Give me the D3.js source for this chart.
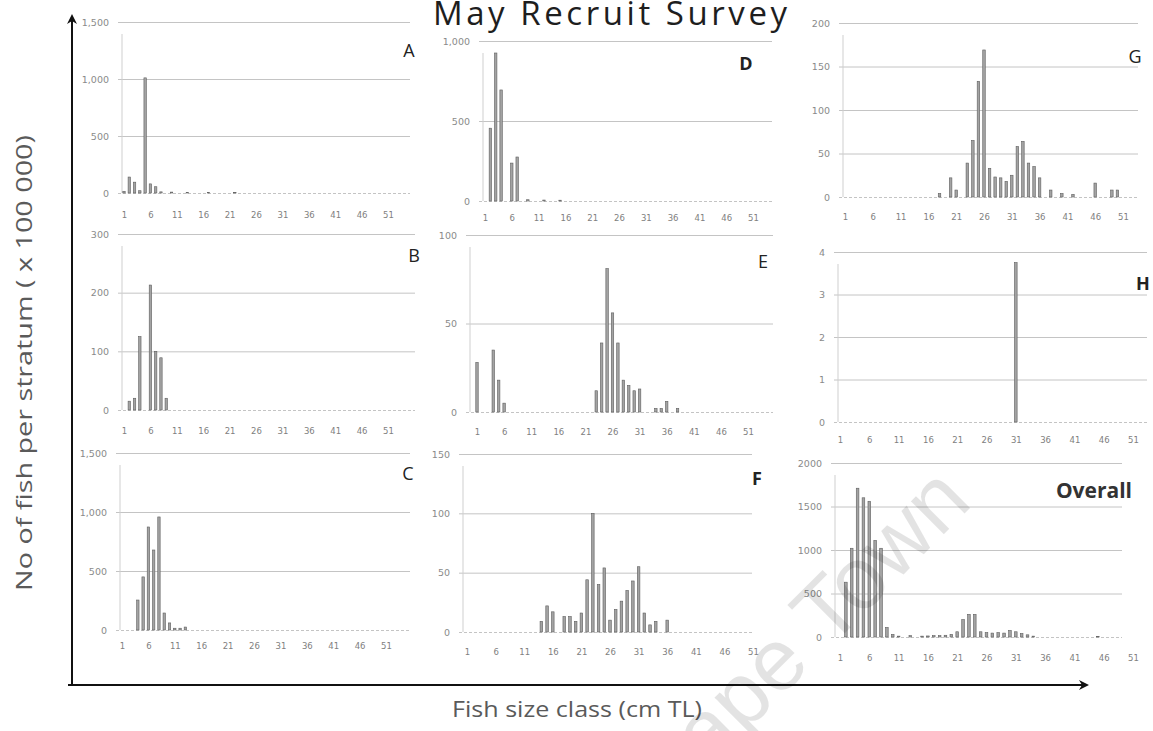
<!DOCTYPE html>
<html>
<head>
<meta charset="utf-8">
<script src="https://cdn.jsdelivr.net/npm/d3@7"></script>
<style>
  html, body { margin: 0; padding: 0; background: #fff; }
  svg { display: block; }
</style>
</head>
<body>
<svg id="chart" width="1153" height="731"></svg>
<script>
// Size classes (cm TL) labelled on every panel
const sizeTicks = [1, 6, 11, 16, 21, 26, 31, 36, 41, 46, 51];

// Stratum A
const classesA = [1, 2, 3, 4, 5, 6, 7, 8, 10, 13, 17, 22];
const countsA  = [15, 140, 95, 20, 1010, 80, 55, 10, 8, 6, 6, 5];
const yTicksA  = [0, 500, 1000, 1500];
const yLabelsA = ["0", "500", "1,000", "1,500"];

// Stratum B
const classesB = [2, 3, 4, 6, 7, 8, 9];
const countsB  = [15, 20, 125, 213, 100, 89, 20];
const yTicksB  = [0, 100, 200, 300];
const yLabelsB = ["0", "100", "200", "300"];

// Stratum C
const classesC = [4, 5, 6, 7, 8, 9, 10, 11, 12, 13];
const countsC  = [254, 450, 873, 678, 958, 144, 60, 15, 15, 25];
const yTicksC  = [0, 500, 1000, 1500];
const yLabelsC = ["0", "500", "1,000", "1,500"];

// Stratum D
const classesD = [2, 3, 4, 6, 7, 9, 12, 15];
const countsD  = [455, 925, 694, 237, 275, 8, 6, 5];
const yTicksD  = [0, 500, 1000];
const yLabelsD = ["0", "500", "1,000"];

// Stratum E
const classesE = [1, 4, 5, 6, 23, 24, 25, 26, 27, 28, 29, 30, 31, 34, 35, 36, 38];
const countsE  = [28, 35, 18, 5, 12, 39, 81, 56, 39, 18, 15, 12, 13, 2, 2, 6, 2];
const yTicksE  = [0, 50, 100];
const yLabelsE = ["0", "50", "100"];

// Stratum F
const classesF = [14, 15, 16, 18, 19, 20, 21, 22, 23, 24, 25, 26, 27, 28, 29, 30, 31, 32, 33, 34, 36];
const countsF  = [9, 22, 17, 13, 13, 9, 16, 44, 100, 40, 54, 10, 19, 26, 35, 43, 55, 16, 6, 9, 10];
const yTicksF  = [0, 50, 100, 150];
const yLabelsF = ["0", "50", "100", "150"];

// Stratum G
const classesG = [18, 20, 21, 23, 24, 25, 26, 27, 28, 29, 30, 31, 32, 33, 34, 35, 36, 38, 40, 42, 46, 49, 50];
const countsG  = [4, 22, 8, 39, 65, 133, 169, 33, 23, 22, 18, 25, 58, 64, 39, 35, 22, 8, 4, 3, 16, 8, 8];
const yTicksG  = [0, 50, 100, 150, 200];
const yLabelsG = ["0", "50", "100", "150", "200"];

// Stratum H
const classesH = [31];
const countsH  = [3.75];
const yTicksH  = [0, 1, 2, 3, 4];
const yLabelsH = ["0", "1", "2", "3", "4"];

// All strata combined
const classesAll = [2, 3, 4, 5, 6, 7, 8, 9, 10, 11, 13, 15, 16, 17, 18, 19, 20, 21, 22, 23, 24, 25, 26, 27, 28, 29, 30, 31, 32, 33, 34, 45];
const countsAll  = [630, 1020, 1710, 1600, 1560, 1110, 1020, 110, 30, 10, 15, 10, 12, 15, 15, 20, 30, 60, 200, 260, 260, 60, 50, 45, 50, 45, 75, 60, 40, 25, 10, 5];
const yTicksAll  = [0, 500, 1000, 1500, 2000];
const yLabelsAll = ["0", "500", "1000", "1500", "2000"];

const svg = d3.select("#chart");
svg.append("rect").attr("width", 1153).attr("height", 731).attr("fill", "#fff");

// Panel placement on the page
const panels = [
  { name: "A", cls: classesA, val: countsA, ticks: yTicksA, labels: yLabelsA, max: 1500,
    axisX: 122, gridEnd: 410, p1: 124, p51: 388, y0: 193, yTop: 22, xRow: 215, lx: 409, ly: 57, bold: false },
  { name: "B", cls: classesB, val: countsB, ticks: yTicksB, labels: yLabelsB, max: 300,
    axisX: 122, gridEnd: 415, p1: 124, p51: 388, y0: 410, yTop: 234, xRow: 431, lx: 414, ly: 262, bold: false },
  { name: "C", cls: classesC, val: countsC, ticks: yTicksC, labels: yLabelsC, max: 1500,
    axisX: 120, gridEnd: 410, p1: 122, p51: 386, y0: 630, yTop: 453, xRow: 646, lx: 408, ly: 480, bold: false },
  { name: "D", cls: classesD, val: countsD, ticks: yTicksD, labels: yLabelsD, max: 1000,
    axisX: 483, gridEnd: 772, p1: 485, p51: 753, y0: 201, yTop: 41, xRow: 218, lx: 746, ly: 70, bold: true },
  { name: "E", cls: classesE, val: countsE, ticks: yTicksE, labels: yLabelsE, max: 100,
    axisX: 470, gridEnd: 773, p1: 477, p51: 748, y0: 412, yTop: 235, xRow: 432, lx: 763, ly: 268, bold: false },
  { name: "F", cls: classesF, val: countsF, ticks: yTicksF, labels: yLabelsF, max: 150,
    axisX: 463, gridEnd: 752, p1: 467, p51: 753, y0: 632, yTop: 454, xRow: 652, lx: 757, ly: 485, bold: true },
  { name: "G", cls: classesG, val: countsG, ticks: yTicksG, labels: yLabelsG, max: 200,
    axisX: 843, gridEnd: 1138, p1: 845, p51: 1123, y0: 197, yTop: 23, xRow: 217, lx: 1135, ly: 63, bold: false },
  { name: "H", cls: classesH, val: countsH, ticks: yTicksH, labels: yLabelsH, max: 4,
    axisX: 838, gridEnd: 1147, p1: 840, p51: 1133, y0: 422, yTop: 252, xRow: 440, lx: 1143, ly: 290, bold: true },
  { name: "Overall", cls: classesAll, val: countsAll, ticks: yTicksAll, labels: yLabelsAll, max: 2000,
    axisX: 835, gridEnd: 1122, p1: 840, p51: 1133, y0: 637, yTop: 463, xRow: 658, lx: 1132, ly: 498, bold: true, big: true }
];

function drawPanel(p) {
  const g = svg.append("g").attr("class", "panel panel-" + p.name);
  const x = d3.scaleLinear().domain([1, 51]).range([p.p1, p.p51]);
  const y = d3.scaleLinear().domain([0, p.max]).range([p.y0, p.yTop]);
  const step = (p.p51 - p.p1) / 50;
  const bw = Math.max(2, step * 0.45);

  // horizontal gridlines and value labels
  const yAxis = d3.axisLeft(y)
    .tickValues(p.ticks)
    .tickSize(-(p.gridEnd - p.axisX))
    .tickPadding(13)
    .tickFormat((d, i) => p.labels[i]);
  const ya = g.append("g").attr("transform", `translate(${p.axisX},0)`).call(yAxis);
  ya.select(".domain").remove();
  ya.selectAll(".tick line")
    .attr("stroke", "#c4c4c4")
    .attr("stroke-width", 1)
    .attr("x1", -4)
    .attr("stroke-dasharray", d => d === 0 ? "3,2" : null);
  ya.selectAll(".tick text")
    .attr("fill", "#8a8a8a")
    .style("font-family", "'DejaVu Sans', sans-serif")
    .style("font-size", "9.5px");

  // vertical value axis of the panel
  g.append("line")
    .attr("x1", p.axisX).attr("x2", p.axisX)
    .attr("y1", p.y0).attr("y2", p.yTop + 12)
    .attr("stroke", "#cfcfcf").attr("stroke-width", 1);

  // size class labels
  const xAxis = d3.axisBottom(x).tickValues(sizeTicks).tickSize(0)
    .tickPadding(p.xRow - p.y0 - 3);
  const xa = g.append("g").attr("transform", `translate(0,${p.y0})`).call(xAxis);
  xa.select(".domain").remove();
  xa.selectAll(".tick text")
    .attr("fill", "#808080")
    .style("font-family", "'DejaVu Sans', sans-serif")
    .style("font-size", "8.5px");

  // bars
  g.selectAll("rect.bar")
    .data(p.cls.map((c, i) => ({ c, v: p.val[i] })))
    .join("rect")
    .attr("class", "bar")
    .attr("x", d => x(d.c) - bw / 2)
    .attr("width", bw)
    .attr("y", d => y(d.v))
    .attr("height", d => p.y0 - y(d.v))
    .attr("fill", "#a3a3a3")
    .attr("stroke", "#5e5e5e")
    .attr("stroke-width", 0.6);

  // panel tag
  g.append("text")
    .attr("x", p.lx).attr("y", p.ly)
    .attr("text-anchor", p.big ? "end" : "middle")
    .attr("fill", p.big ? "#333" : "#222")
    .style("font-family", "'Open Sans', 'Liberation Sans', sans-serif")
    .style("font-size", p.big ? "21px" : "18px")
    .style("font-weight", p.bold ? "bold" : "normal")
    .text(p.name);
}

panels.forEach(drawPanel);

// Title
svg.append("text")
  .attr("x", 433).attr("y", 25)
  .attr("textLength", 354).attr("lengthAdjust", "spacing")
  .attr("fill", "#1e1e1e")
  .style("font-family", "'Open Sans', 'Liberation Sans', sans-serif")
  .style("font-size", "33px")
  .text("May Recruit Survey");

// Outer axes with arrowheads
const defs = svg.append("defs");
defs.append("marker")
  .attr("id", "arrow").attr("viewBox", "0 0 10 10")
  .attr("refX", 8).attr("refY", 5)
  .attr("markerWidth", 5).attr("markerHeight", 5)
  .attr("orient", "auto")
  .append("path").attr("d", "M0,0 L10,5 L0,10 L3,5 Z").attr("fill", "#111");

svg.append("line")
  .attr("x1", 72).attr("y1", 685).attr("x2", 72).attr("y2", 16)
  .attr("stroke", "#111").attr("stroke-width", 2)
  .attr("marker-end", "url(#arrow)");
svg.append("line")
  .attr("x1", 68).attr("y1", 685).attr("x2", 1087).attr("y2", 685)
  .attr("stroke", "#111").attr("stroke-width", 2)
  .attr("marker-end", "url(#arrow)");

// Axis titles
svg.append("text")
  .attr("transform", "translate(32,363) rotate(-90)")
  .attr("text-anchor", "middle")
  .attr("textLength", 456).attr("lengthAdjust", "spacingAndGlyphs")
  .attr("fill", "#5a5a5a")
  .style("font-family", "'Open Sans', 'Liberation Sans', sans-serif")
  .style("font-size", "22px")
  .text("No of fish per stratum ( x 100 000)");

svg.append("text")
  .attr("x", 577).attr("y", 717)
  .attr("text-anchor", "middle")
  .attr("textLength", 250).attr("lengthAdjust", "spacingAndGlyphs")
  .attr("fill", "#5a5a5a")
  .style("font-family", "'Open Sans', 'Liberation Sans', sans-serif")
  .style("font-size", "21px")
  .text("Fish size class (cm TL)");

// Watermark
svg.append("text")
  .attr("transform", "translate(974,504) rotate(-45)")
  .attr("text-anchor", "end")
  .attr("fill", "#000").attr("fill-opacity", 0.11)
  .style("font-family", "'Liberation Sans', sans-serif")
  .style("font-size", "88px")
  .text("Cape Town");
</script>
</body>
</html>
